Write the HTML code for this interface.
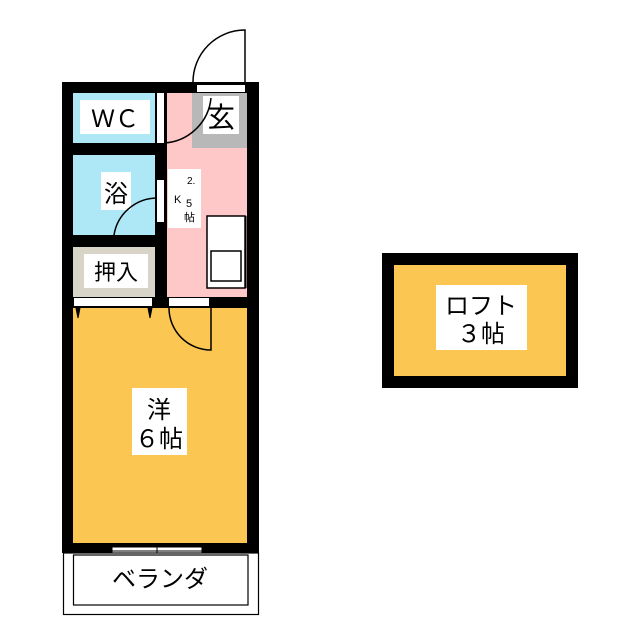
<!DOCTYPE html>
<html><head><meta charset="utf-8"><style>
html,body{margin:0;padding:0;background:#fff;}
svg{display:block;}
text{font-family:"Liberation Sans","Noto Sans CJK JP",sans-serif;fill:#000;}
</style></head><body>
<svg width="640" height="640" viewBox="0 0 640 640" xmlns="http://www.w3.org/2000/svg">
<rect x="62" y="82" width="197" height="471" fill="#000"/>
<rect x="73" y="93" width="82" height="50" fill="#aee8f7"/>
<rect x="80" y="100" width="70" height="34" fill="#fff"/>
<text x="115" y="127" font-size="24" text-anchor="middle">ＷＣ</text>
<rect x="73" y="155" width="82" height="80" fill="#aee8f7"/>
<rect x="101" y="172" width="30" height="38" fill="#fff"/>
<text x="116" y="202" font-size="24" text-anchor="middle">浴</text>
<rect x="73" y="247" width="82" height="50" fill="#d8d4c8"/>
<rect x="84" y="254" width="64" height="34" fill="#fff"/>
<text x="116" y="280" font-size="22" text-anchor="middle">押入</text>
<rect x="167" y="93" width="80" height="204" fill="#ffc8c8"/>
<rect x="192" y="93" width="55" height="55" fill="#b8b8b8"/>
<rect x="203" y="96" width="36" height="38" fill="#fff"/>
<text x="221" y="127" font-size="28" text-anchor="middle">玄</text>
<rect x="168" y="169" width="33" height="59" fill="#fff"/>
<text x="187" y="184" font-size="10">2.</text>
<text x="174" y="203" font-size="11">K</text>
<text x="186" y="207" font-size="11">5</text>
<text x="184" y="221" font-size="11">帖</text>
<rect x="207" y="216" width="38" height="72" fill="#fff" stroke="#000" stroke-width="1.5"/>
<rect x="211" y="251" width="30" height="30" fill="#fff" stroke="#000" stroke-width="1.5"/>
<line x1="246" y1="216" x2="246" y2="288" stroke="#000" stroke-width="1"/>
<rect x="157" y="93" width="7" height="50" fill="#fff"/>
<rect x="157" y="180" width="7" height="42" fill="#fff"/>
<rect x="74" y="298" width="78" height="8" fill="#fff"/>
<rect x="169" y="298" width="40" height="8" fill="#fff"/>
<rect x="197" y="85" width="48" height="7" fill="#fff"/>
<rect x="73" y="308" width="174" height="235" fill="#fcc652"/>
<rect x="132" y="388" width="55" height="67" fill="#fff"/>
<text x="159" y="418" font-size="24" text-anchor="middle">洋</text>
<text x="159" y="447" font-size="24" text-anchor="middle">６帖</text>
<path d="M193 82 A52 52 0 0 1 245 30 L245 82" fill="none" stroke="#000" stroke-width="1.5"/>
<path d="M164 143 A50 50 0 0 0 211 98" fill="none" stroke="#000" stroke-width="1.5"/>
<path d="M114 235 A44 44 0 0 1 157 198" fill="none" stroke="#000" stroke-width="1.5"/>
<path d="M169 308 A42 42 0 0 0 211 350 L211 308" fill="none" stroke="#000" stroke-width="1.5"/>
<path d="M76 308 l2 10 l2 -10 M148 308 l2 10 l2 -10" fill="#000" stroke="#000" stroke-width="1"/>
<rect x="112" y="547" width="90" height="8" fill="#fff" stroke="#000" stroke-width="1"/>
<line x1="112" y1="551" x2="202" y2="551" stroke="#000" stroke-width="1"/>
<line x1="157" y1="544" x2="157" y2="556" stroke="#000" stroke-width="1"/>
<rect x="63.5" y="553" width="195" height="61.5" fill="#fff" stroke="#000" stroke-width="1.2"/>
<rect x="73.5" y="555" width="174.5" height="50" fill="#fff" stroke="#000" stroke-width="1.2"/>
<text x="160" y="587" font-size="24" text-anchor="middle">ベランダ</text>
<rect x="382" y="253" width="196" height="135" fill="#000"/>
<rect x="394" y="265" width="172" height="111" fill="#fcc652"/>
<rect x="436" y="285" width="91" height="65" fill="#fff"/>
<text x="481" y="314" font-size="24" text-anchor="middle">ロフト</text>
<text x="481" y="342" font-size="24" text-anchor="middle">３帖</text>
</svg>
</body></html>
